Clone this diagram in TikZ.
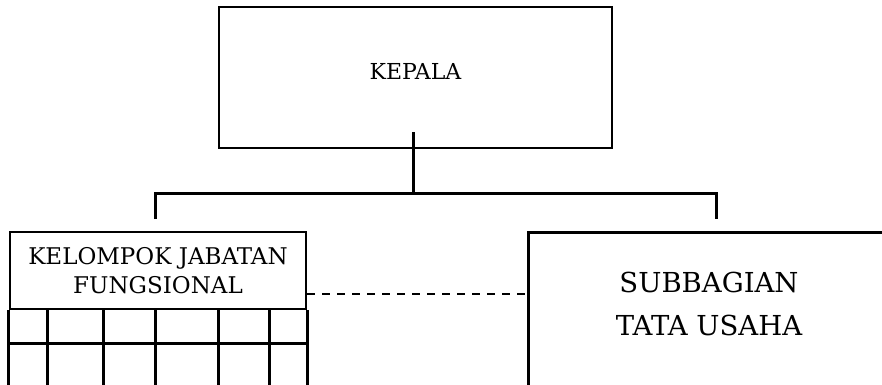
\documentclass[tikz,border=0pt]{standalone}
\usepackage{fontspec}
\setmainfont{DejaVu Serif}
\usetikzlibrary{positioning}

\begin{document}
\begin{tikzpicture}[x=1pt, y=-1pt,
	% Define styles for boxes and lines
	kotak/.style={draw, line width=1.8pt, inner sep=0pt},
	garis/.style={line width=3pt, line join=miter},
	putus/.style={line width=2.8pt, dash pattern=on 8pt off 7pt}
	]
	\useasboundingbox (0,0) rectangle (882,384);
	\clip (0,0) rectangle (882,384);
	
	% Place the boxes
	\node[kotak, minimum width=393pt, minimum height=141pt, text depth=12pt,
		font=\fontsize{22}{26}\selectfont] (kepala) at (415.5,77.5) {KEPALA};
	\node[kotak, line width=2.6pt, minimum width=296pt, minimum height=77pt,
		align=center, font=\fontsize{23}{29}\selectfont] (kjf) at (158,270.5) {KELOMPOK JABATAN\\FUNGSIONAL};
	\node[align=center, font=\fontsize{27.5}{43}\selectfont] (tu) at (709,304) {SUBBAGIAN\\TATA USAHA};
	
	% Grid under the functional group
	\foreach \x in {47,103,155,218,269}
		\draw[garis] (\x,309) -- (\x,392);
	\draw[garis] (kjf.south west) -- ++(0,85);
	\draw[garis] (kjf.south east) -- ++(0,85);
	\draw[garis] (10,343) -- (306,343);
	
	% Frame of the administration box
	\draw[garis] (528,392) -- (528,232) -- (890,232);
	
	% --- Draw the connectors ---
	\coordinate (tarik) at (413,132);
	\coordinate (cabang) at (413,193);
	\coordinate (kiri) at (155,219);
	\coordinate (kanan) at (716,219);
	\coordinate (tu-kiri) at (528,294);
	\draw[garis] (tarik) -- (cabang);
	\draw[garis] (kiri) |- (cabang) -| (kanan);
	\draw[putus] (kjf.east |- tu-kiri) -- (tu-kiri);
\end{tikzpicture}
\end{document}
